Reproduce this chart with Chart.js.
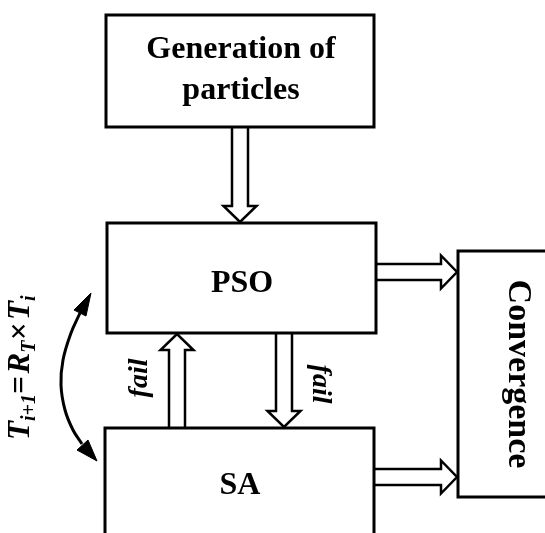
<!DOCTYPE html>
<html><head><meta charset="utf-8">
<script src="https://cdn.jsdelivr.net/npm/chart.js@4/dist/chart.umd.min.js"></script>
<style>html,body{margin:0;padding:0;background:#fff}#wrap{width:545px;height:533px;position:relative}</style>
</head><body><div id="wrap"><canvas id="c"></canvas></div>
<script>
// ---- diagram data (in diagram units) ----
const boxLabels   = [['Generation of','particles'], ['PSO'], ['SA'], ['Convergence']];
const boxX0       = [106, 107, 105, 458];
const boxX1       = [374, 376, 374, 570];
const boxY0       = [15, 223, 428, 251];
const boxY1       = [127, 333, 560, 497];
const labelX      = [241, 242, 240, 509];
const labelY      = [[58, 99], [292], [494], [374]];
const labelRotate = [0, 0, 0, 90];
const labelSize   = [32, 32, 32, 34];

const arrowDir    = ['down', 'right', 'up', 'down', 'right'];
const arrowFromX  = [240, 376, 177, 284, 374];
const arrowFromY  = [127, 272, 428, 333, 477];
const arrowTip    = [222, 457, 334, 427, 457];

const failText    = 'fail';
const failX       = [147, 313];
const failY       = [378, 384];
const failRotate  = [-90, 90];

const cycleX      = [80, 71, 63, 61, 65, 73, 82];
const cycleY      = [313, 333, 360, 385, 410, 430, 444];
const headTopX    = [91, 86, 74, 91];
const headTopY    = [293, 316, 310, 293];
const headBotX    = [97, 88, 77, 97];
const headBotY    = [461, 440, 450, 461];

const eqParts     = [['T','m'],['i+1','s'],['=','m'],['R','m'],['T','s'],['×','m'],['T','m'],['i','s']];
const eqX = 29, eqY = 440;

const SHAFT = 8, HEAD = 16.5, HEADLEN = 16;

function rectPts(i){
  const x0=boxX0[i],x1=boxX1[i],y0=boxY0[i],y1=boxY1[i];
  return [{x:x1,y:y0},{x:x0,y:y0},{x:x0,y:y1},{x:x1,y:y1},{x:x1,y:y0}];
}
function arrowPts(i){
  const d=arrowDir[i], sx=arrowFromX[i], sy=arrowFromY[i], t=arrowTip[i];
  if(d==='down'){ const b=t-HEADLEN;
    return [{x:sx-SHAFT,y:sy},{x:sx-SHAFT,y:b},{x:sx-HEAD,y:b},{x:sx,y:t},{x:sx+HEAD,y:b},{x:sx+SHAFT,y:b},{x:sx+SHAFT,y:sy}]; }
  if(d==='up'){ const b=t+HEADLEN;
    return [{x:sx-SHAFT,y:sy},{x:sx-SHAFT,y:b},{x:sx-HEAD,y:b},{x:sx,y:t},{x:sx+HEAD,y:b},{x:sx+SHAFT,y:b},{x:sx+SHAFT,y:sy}]; }
  const b=t-HEADLEN;
  return [{x:sx,y:sy-SHAFT},{x:b,y:sy-SHAFT},{x:b,y:sy-HEAD},{x:t,y:sy},{x:b,y:sy+HEAD},{x:b,y:sy+SHAFT},{x:sx,y:sy+SHAFT}];
}
const zip=(xs,ys)=>xs.map((x,k)=>({x,y:ys[k]}));

const datasets=[];
boxLabels.forEach((_,i)=>datasets.push({data:rectPts(i),borderColor:'#000',borderWidth:3,tension:0,pointRadius:0,fill:false,borderCapStyle:'square',borderJoinStyle:'miter'}));
arrowDir.forEach((_,i)=>datasets.push({data:arrowPts(i),borderColor:'#000',backgroundColor:'#fff',borderWidth:2.5,tension:0,pointRadius:0,fill:false,borderJoinStyle:'miter'}));
datasets.push({data:zip(cycleX,cycleY),borderColor:'#000',borderWidth:3,tension:0.4,pointRadius:0,fill:false});
datasets.push({data:zip(headTopX,headTopY),borderColor:'#000',backgroundColor:'#000',borderWidth:1,tension:0,pointRadius:0,fill:'shape'});
datasets.push({data:zip(headBotX,headBotY),borderColor:'#000',backgroundColor:'#000',borderWidth:1,tension:0,pointRadius:0,fill:'shape'});

const serif='"Liberation Serif","Times New Roman",serif';
const textPlugin={id:'texts',afterDatasetsDraw(chart){
  const ctx=chart.ctx, X=v=>chart.scales.x.getPixelForValue(v), Y=v=>chart.scales.y.getPixelForValue(v);
  ctx.save(); ctx.fillStyle='#000'; ctx.textBaseline='alphabetic';
  boxLabels.forEach((lines,i)=>{
    lines.forEach((ln,k)=>{
      ctx.save();
      ctx.translate(X(labelX[i]),Y(labelY[i][k]));
      ctx.rotate(labelRotate[i]*Math.PI/180);
      ctx.font='bold '+labelSize[i]+'px '+serif; ctx.textAlign='center';
      ctx.fillText(ln,0,0);
      ctx.restore();
    });
  });
  failX.forEach((fx,i)=>{
    ctx.save(); ctx.translate(X(fx),Y(failY[i])); ctx.rotate(failRotate[i]*Math.PI/180);
    ctx.font='italic bold 28px '+serif; ctx.textAlign='center'; ctx.fillText(failText,0,0); ctx.restore();
  });
  ctx.save(); ctx.translate(X(eqX),Y(eqY)); ctx.rotate(-Math.PI/2); ctx.textAlign='left';
  let cur=0;
  eqParts.forEach(([t,k])=>{
    ctx.font=(k==='m'?'italic bold 31px ':'italic bold 20px ')+serif;
    ctx.fillText(t,cur,k==='m'?0:6);
    cur+=ctx.measureText(t).width+(t==='='||t==='×'?3:0);
  });
  ctx.restore();
  ctx.restore();
}};

new Chart(document.getElementById('c'),{
  type:'line',
  data:{datasets},
  options:{responsive:true,maintainAspectRatio:false,animation:false,events:[],
    layout:{padding:0},
    plugins:{legend:{display:false},tooltip:{enabled:false},title:{display:false}},
    scales:{x:{type:'linear',min:0,max:545,display:false},y:{type:'linear',min:0,max:533,reverse:true,display:false}}},
  plugins:[textPlugin]
});
</script></body></html>
